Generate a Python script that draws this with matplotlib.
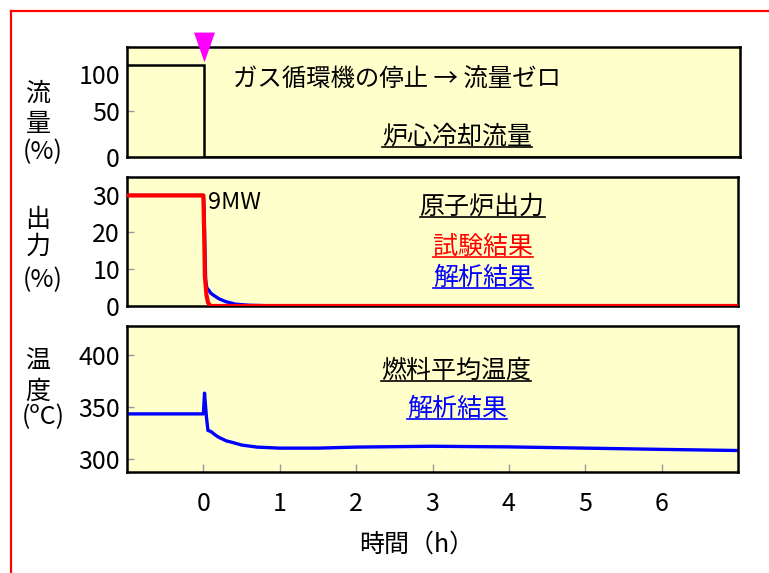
import matplotlib

matplotlib.use("Agg")
import matplotlib.pyplot as plt
from matplotlib.lines import Line2D
from matplotlib.transforms import offset_copy

plt.rcParams["font.family"] = ["Noto Sans CJK JP", "DejaVu Sans"]

# --- data ---
flow_t = [-1, 0, 0, 7]
flow_pct = [100, 100, 0, 0]

power_t_test = [-1, 0, 0.01, 0.02, 0.04, 0.06, 0.08, 0.1, 7]
power_test = [30, 30, 20, 8, 3, 1, 0.3, 0, 0]

power_t_calc = [-1, 0, 0.01, 0.02, 0.03, 0.045, 0.07, 0.1, 0.15, 0.2, 0.29, 0.42, 0.6, 0.8, 1.0, 7]
power_calc = [30, 30, 26, 15, 7, 4.9, 4.3, 3.4, 2.7, 2.0, 1.2, 0.5, 0.2, 0.1, 0, 0]

temp_t = [-1, 0, 0.015, 0.04, 0.06, 0.1, 0.15, 0.2, 0.3, 0.37, 0.5, 0.7, 1.0, 1.5, 2, 3, 4, 5, 6, 7]
temp_calc = [343, 343, 363, 340, 327, 326, 323, 320.5, 317, 315.7, 313, 311, 310, 310, 311, 311.8, 311.2, 310, 308.8, 307.7]

x_ticks = [0, 1, 2, 3, 4, 5, 6]

W, H = 769, 573
fig = plt.figure(figsize=(W / 100, H / 100), dpi=100)


def px(x, y):
    return x / W, 1 - y / H


face = "#ffffcc"
ax1 = fig.add_axes([127 / W, 1 - 157 / H, 613 / W, 110.3 / H])
ax2 = fig.add_axes([127 / W, 1 - 306 / H, 611 / W, 129 / H])
ax3 = fig.add_axes([127 / W, 1 - 472 / H, 611 / W, 146.3 / H])

for ax in (ax1, ax2, ax3):
    ax.set_facecolor(face)
    ax.set_xlim(-1, 7)
    for s in ax.spines.values():
        s.set_linewidth(1.8)
        s.set_color("black")
    ax.tick_params(axis="y", direction="in", length=5, width=1, color="#999999",
                   labelsize=18, pad=5)
    ax.tick_params(axis="x", direction="in", length=6, width=1, color="#999999",
                   labelsize=18, pad=14)

# panel 1: core flow
ax1.plot(flow_t, flow_pct, color="black", lw=1.8, solid_joinstyle="miter")
ax1.set_ylim(0, 120)
ax1.set_yticks([0, 50, 100])
ax1.set_xticks([])
lbl = ax1.get_yticklabels()[-1]
lbl.set_transform(offset_copy(lbl.get_transform(), fig=fig, y=-9, units="dots"))
ax1.plot([0], [0.995], transform=ax1.get_xaxis_transform(), marker=[(-0.7, 1), (0.7, 1), (0, -1)],
         ms=21.5, color="magenta", mec="none", clip_on=False, zorder=10)

# panel 2: reactor power
ax2.plot(power_t_calc, power_calc, color="blue", lw=2.4, zorder=3)
ax2.plot(power_t_test, power_test, color="red", lw=3, zorder=4)
ax2.set_ylim(0, 35)
ax2.set_yticks([0, 10, 20, 30])
ax2.set_xticks([])

# panel 3: fuel temperature
ax3.plot(temp_t, temp_calc, color="blue", lw=2.4)
ax3.set_ylim(287, 428)
ax3.set_yticks([300, 350, 400])
ax3.set_xticks(x_ticks)

# y labels
for lines, ys in (
    (["流", "量", "(%)"], [94, 124, 152]),
    (["出", "力", "(%)"], [220, 247, 280]),
    (["温", "度", "(ºC)"], [362, 392, 417]),
):
    for txt, y in zip(lines, ys):
        x = 43 if txt.startswith("(") else 38
        fig.text(*px(x, y), txt, fontsize=18, ha="center", va="center")

fig.text(*px(417, 545), "時間（h）", fontsize=18, ha="center", va="center")

fig.text(*px(233, 79), "ガス循環機の停止 → 流量ゼロ", fontsize=17.6, ha="left", va="center")
fig.text(*px(208, 203), "9MW", fontsize=17, ha="left", va="center")

underlined = [
    ("炉心冷却流量", 457, 137, "black"),
    ("原子炉出力", 482, 207, "black"),
    ("試験結果", 483, 247, "red"),
    ("解析結果", 483, 278, "blue"),
    ("燃料平均温度", 456, 371, "black"),
    ("解析結果", 457, 409, "blue"),
]
texts = []
for txt, x, y, c in underlined:
    texts.append((fig.text(*px(x, y), txt, fontsize=18, ha="center", va="center", color=c), c))

# red outer frame
fig.add_artist(Line2D([11 / W, 1.0], [1 - 10.7 / H] * 2, color="red", lw=1.6))
fig.add_artist(Line2D([11 / W] * 2, [0, 1 - 10.7 / H], color="red", lw=1.6))

fig.canvas.draw()
renderer = fig.canvas.get_renderer()
for t, c in texts:
    bb = t.get_window_extent(renderer)
    y0 = (bb.y0 + 3) / H
    fig.add_artist(Line2D([bb.x0 / W, bb.x1 / W], [y0, y0], color=c, lw=1.2))

fig.savefig("out.png", dpi=100)
